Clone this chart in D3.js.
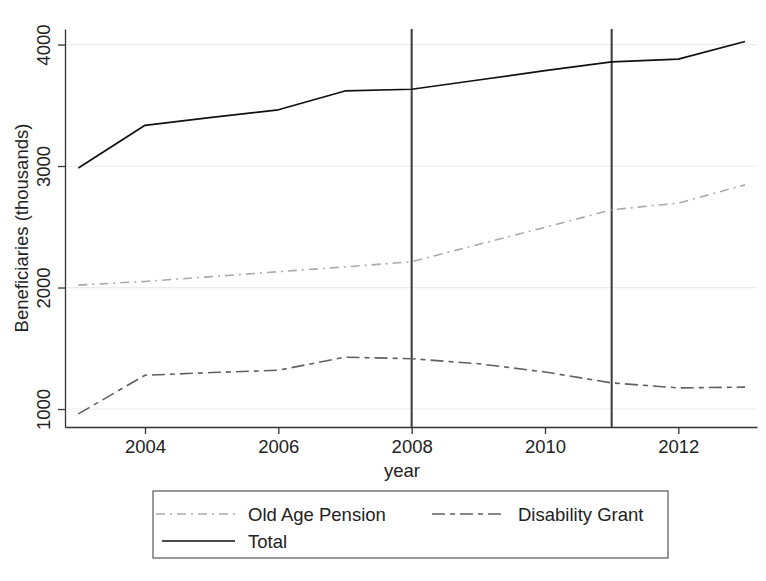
<!DOCTYPE html>
<html>
<head>
<meta charset="utf-8">
<script src="https://cdn.jsdelivr.net/npm/d3@7"></script>
<style>
  body { margin: 0; background: #fff; }
  text { font-family: "Liberation Sans", Arial, Helvetica, sans-serif; fill: #222; }
</style>
</head>
<body>
<div id="chart"></div>
<script>
// data (thousands of beneficiaries)
var years = [2003, 2004, 2005, 2006, 2007, 2008, 2009, 2010, 2011, 2012, 2013];
var oldAge = [2020, 2050, 2090, 2130, 2170, 2212, 2355, 2495, 2640, 2695, 2845];
var disability = [960, 1278, 1300, 1319, 1427, 1414, 1373, 1305, 1215, 1174, 1180];
var total = [2984, 3335, 3400, 3463, 3618, 3632, 3708, 3786, 3858, 3880, 4025];
var xTicks = [2004, 2006, 2008, 2010, 2012];
var yTicks = [1000, 2000, 3000, 4000];
var markYears = [2008, 2011];

var W = 766, H = 581;
var margin = {top: 29, right: 9, bottom: 154, left: 65},
    width = W - margin.left - margin.right,
    height = H - margin.top - margin.bottom;

var svg = d3.select("#chart")
    .append("svg")
    .attr("width", W)
    .attr("height", H);

var g = svg.append("g")
    .attr("transform", "translate(" + margin.left + "," + margin.top + ")");

var x = d3.scaleLinear()
    .domain([2002.8, 2013.18])
    .range([0, width]);

var y = d3.scaleLinear()
    .domain([852, 4128])
    .range([height, 0]);

// light grid lines
g.selectAll(".grid")
    .data(yTicks)
    .enter()
    .append("line")
    .attr("x1", 0)
    .attr("x2", width)
    .attr("y1", function(d) { return y(d); })
    .attr("y2", function(d) { return y(d); })
    .style("stroke", "#e6efef")
    .style("stroke-width", 1.2);

// axes
var xAxis = g.append("g")
    .attr("transform", "translate(0," + height + ")")
    .call(d3.axisBottom(x).tickValues(xTicks).tickFormat(d3.format("d")).tickSize(7).tickSizeOuter(0));

var yAxis = g.append("g")
    .call(d3.axisLeft(y).tickValues(yTicks).tickFormat(d3.format("d")).tickSize(7).tickSizeOuter(0));

[xAxis, yAxis].forEach(function(a) {
    a.select(".domain").style("stroke", "#333").style("stroke-width", 1.3);
    a.selectAll(".tick line").style("stroke", "#333").style("stroke-width", 1.3);
    a.selectAll("text")
        .style("font-size", "18.5px")
        .style("fill", "#222")
        .style("font-family", "'Liberation Sans', Arial, sans-serif");
});

xAxis.selectAll("text").attr("y", 13).attr("dy", "0.71em");

// rotated y tick labels
yAxis.selectAll(".tick text")
    .attr("x", null)
    .attr("dy", null)
    .attr("text-anchor", "middle")
    .attr("transform", "translate(-15,0) rotate(-90)");

// vertical reference lines
g.selectAll(".mark")
    .data(markYears)
    .enter()
    .append("line")
    .attr("x1", function(d) { return x(d); })
    .attr("x2", function(d) { return x(d); })
    .attr("y1", 0)
    .attr("y2", height)
    .style("stroke", "#3a3a3a")
    .style("stroke-width", 2);

var series = [
    {name: "Old Age Pension", values: oldAge, color: "#aaaaaa", dash: "9,5,2,5", w: 1.6},
    {name: "Disability Grant", values: disability, color: "#606060", dash: "13,5,5,5", w: 1.6},
    {name: "Total", values: total, color: "#111111", dash: null, w: 1.7}
];

var line = d3.line()
    .x(function(d, i) { return x(years[i]); })
    .y(function(d) { return y(d); });

g.selectAll(".series")
    .data(series)
    .enter()
    .append("path")
    .attr("d", function(s) { return line(s.values); })
    .style("fill", "none")
    .style("stroke", function(s) { return s.color; })
    .style("stroke-width", function(s) { return s.w; })
    .style("stroke-dasharray", function(s) { return s.dash; })
    .style("stroke-linejoin", "round");

// axis titles
svg.append("text")
    .attr("x", margin.left + width / 2 - 9)
    .attr("y", 477)
    .attr("text-anchor", "middle")
    .style("font-size", "18.5px")
    .text("year");

svg.append("text")
    .attr("transform", "translate(28," + (margin.top + height / 2) + ") rotate(-90)")
    .attr("text-anchor", "middle")
    .style("font-size", "18.5px")
    .text("Beneficiaries (thousands)");

// legend
var legend = svg.append("g");
legend.append("rect")
    .attr("x", 153)
    .attr("y", 491)
    .attr("width", 515)
    .attr("height", 67)
    .style("fill", "#fff")
    .style("stroke", "#555")
    .style("stroke-width", 1.2);

var legendPos = [
    {x: 156, y: 514},
    {x: 432, y: 514},
    {x: 162, y: 541}
];

series.forEach(function(s, i) {
    var p = legendPos[i];
    legend.append("line")
        .attr("x1", p.x)
        .attr("x2", i == 1 ? p.x + 72 : (i == 2 ? p.x + 73 : p.x + 82))
        .attr("y1", p.y)
        .attr("y2", p.y)
        .style("stroke", s.color)
        .style("stroke-width", s.w)
        .style("stroke-dasharray", s.dash);
    legend.append("text")
        .attr("x", i == 1 ? 518 : 248)
        .attr("y", p.y + 6.5)
        .style("font-size", "18.5px")
        .text(s.name);
});
</script>
</body>
</html>
